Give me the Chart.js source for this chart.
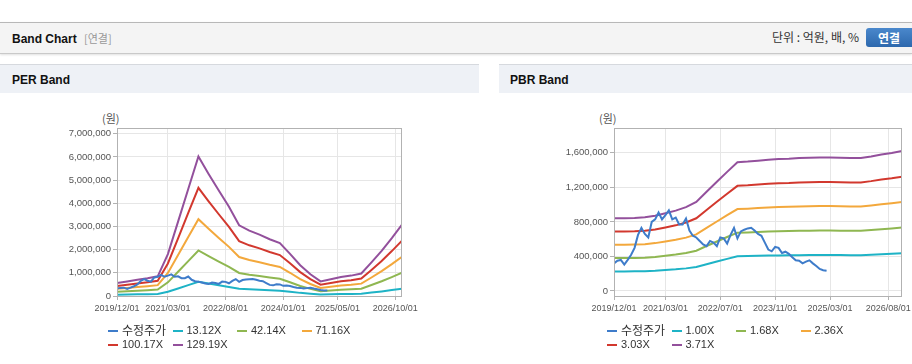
<!DOCTYPE html>
<html><head><meta charset="utf-8">
<script src="https://cdn.jsdelivr.net/npm/chart.js@4/dist/chart.umd.min.js"></script>
<style>
html,body{margin:0;padding:0}
body{width:912px;height:364px;overflow:hidden;background:#fff;position:relative;font-family:"Liberation Sans",Arial,"Noto Sans CJK KR",sans-serif;color:#222}
.abs{position:absolute;white-space:nowrap}
#topbar{left:0;top:22px;width:912px;height:30px;background:#f4f4f4;border-top:1px solid #b8b8b8;border-bottom:1px solid #c9c9c9;box-shadow:0 1px 2px rgba(0,0,0,.12)}
.ph{top:64px;height:28px;background:#eef1f6;border-top:1px solid #d6d9de}
.ttl{font-weight:bold;font-size:12px;line-height:14px;color:#111}
.unit{font-size:12px;line-height:14px;color:#333;font-family:"Noto Sans CJK KR","Liberation Sans",sans-serif}
#btn{left:866px;top:28px;width:52px;height:19px;border-radius:3px;background:linear-gradient(#4a88cc,#2d68ad);color:#fff;font-weight:bold;font-size:12px;line-height:19px;font-family:"Noto Sans CJK KR",sans-serif}
#btn span{position:absolute;left:12px;top:0}
.wonlbl{font-size:11px;color:#555;line-height:12px;font-family:"Noto Sans CJK KR",sans-serif}
.leg{font-size:11px;color:#333;line-height:13px;height:13px}
.leg i{position:absolute;left:0;top:6px;width:10px;height:2px}
.leg b{position:absolute;left:14px;top:0;font-weight:normal}
.leg b.kr{font-family:"Noto Sans CJK KR",sans-serif;font-size:12px;top:-1px}
canvas{position:absolute}
</style>
</head><body>
<div id="topbar" class="abs"></div>
<div class="abs ttl" style="left:12px;top:31px">Band Chart <span style="font-weight:normal;color:#999;margin-left:4px;font-family:'Noto Sans CJK KR',sans-serif;font-size:11px">[연결]</span></div>
<div class="abs unit" style="right:53px;top:30px">단위 : 억원, 배, %</div>
<div id="btn" class="abs"><span>연결</span></div>
<div class="abs ph" style="left:0;width:479px"></div>
<div class="abs ph" style="left:499px;width:413px"></div>
<div class="abs ttl" style="left:12px;top:73px">PER Band</div>
<div class="abs ttl" style="left:510px;top:73px">PBR Band</div>
<div class="abs wonlbl" style="left:102px;top:112px">(원)</div>
<div class="abs wonlbl" style="left:599px;top:112px">(원)</div>
<canvas id="per" width="479" height="230" style="left:0;top:93px"></canvas>
<canvas id="pbr" width="413" height="230" style="left:499px;top:93px"></canvas>
<div id="legends"></div>
<script>
// ---------- data ----------
const bandDates = ['2019/12','2020/03','2020/06','2020/09','2020/12','2021/03','2021/06','2021/09','2021/12','2022/03','2022/06','2022/09','2022/12','2023/03','2023/06','2023/09','2023/12','2024/03','2024/06','2024/09','2024/12','2025/03','2025/06','2025/09','2025/12','2026/03','2026/06','2026/09','2026/12'];

const priceDates = ['2019/12',
 '2020/01','2020/02','2020/03','2020/04','2020/05','2020/06','2020/07','2020/08','2020/09','2020/10','2020/11','2020/12',
 '2021/01','2021/02','2021/03','2021/04','2021/05','2021/06','2021/07','2021/08','2021/09','2021/10','2021/11','2021/12',
 '2022/01','2022/02','2022/03','2022/04','2022/05','2022/06','2022/07','2022/08','2022/09','2022/10','2022/11','2022/12',
 '2023/01','2023/02','2023/03','2023/04','2023/05','2023/06','2023/07','2023/08','2023/09','2023/10','2023/11','2023/12',
 '2024/01','2024/02','2024/03','2024/04','2024/05','2024/06','2024/07','2024/08','2024/09','2024/10','2024/11','2024/12',
 '2025/01','2025/02'];

const adjPrice = [320000,350000,360000,305000,360000,420000,500000,650000,730000,660000,
 620000,800000,830000,910000,830000,880000,935000,830000,850000,770000,
 770000,840000,700000,640000,620000,580000,540000,520000,580000,560000,
 520000,620000,610000,550000,650000,730000,610000,690000,710000,725000,
 733000,700000,660000,640000,560000,480000,460000,510000,500000,440000,
 455000,430000,390000,355000,350000,320000,340000,355000,320000,290000,
 255000,240000,234000];

// PER bands
const per1312 = [56900,64000,71100,78200,86300,183800,326000,469200,611400,535200,462100,391000,309800,286400,269100,248800,231600,184800,135100,95500,64000,73100,83300,89400,98500,147300,198000,253900,312800];
const per4214 = [182700,205500,228300,251200,277300,590400,1047100,1507000,1963700,1719100,1484200,1255900,994900,919900,864400,799200,743700,593700,433800,306600,205500,234900,267500,287100,316400,473000,636100,815500,1004700];
const per7116 = [308400,347000,385600,424100,468200,996900,1768100,2544700,3315800,2902700,2506100,2120600,1679900,1553300,1459600,1349500,1255800,1002500,732600,517800,347000,396600,451700,484700,534300,798700,1074100,1377000,1696500];
const per10017 = [434000,488500,542800,597100,659100,1403500,2489000,3582300,4667900,4086400,3528100,2985300,2365000,2186600,2054800,1899700,1767900,1411200,1031300,728900,488500,558300,635800,682400,752100,1124300,1512000,1938500,2388200];
const per12919 = [560000,630000,700000,770000,850000,1810000,3210000,4620000,6020000,5270000,4550000,3850000,3050000,2820000,2650000,2450000,2280000,1820000,1330000,940000,630000,720000,820000,880000,970000,1450000,1950000,2500000,3080000];

// PBR bands
const pbr100 = [227000,227000,228000,230000,235000,243000,251000,262000,278000,310000,341000,372000,402000,404000,407000,410000,412000,413000,415000,416000,417000,417000,416000,415000,415000,420000,426000,431000,437000];
const pbr168 = [381400,381400,383000,386400,394800,408200,421700,440200,467000,520800,572900,625000,675400,678700,683800,688800,692200,693800,697200,698900,700600,700600,698900,697200,697200,705600,715700,724100,734200];
const pbr236 = [535700,535700,538100,542800,554600,573500,592400,618300,656100,731600,804800,877900,948700,953400,960500,967600,972300,974700,979400,981800,984100,984100,981800,979400,979400,991200,1005400,1017200,1031300];
const pbr303 = [687800,687800,690800,696900,712100,736300,760500,793900,842300,939300,1033200,1127200,1218100,1224100,1233200,1242300,1248400,1251400,1257500,1260500,1263500,1263500,1260500,1257500,1257500,1272600,1290800,1305900,1324100];
const pbr371 = [842200,842200,845900,853300,871900,901500,931200,972000,1031400,1150100,1265100,1380100,1491400,1498800,1510000,1521100,1528500,1532200,1539700,1543400,1547100,1547100,1543400,1539700,1539700,1558200,1580500,1599000,1621300];

const perNames = ['수정주가','13.12X','42.14X','71.16X','100.17X','129.19X'];
const pbrNames = ['수정주가','1.00X','1.68X','2.36X','3.03X','3.71X'];

const perXTickLabels = ['2019/12/01','2021/03/01','2022/08/01','2024/01/01','2025/05/01','2026/10/01'];
const pbrXTickLabels = ['2019/12/01','2021/03/01','2022/07/01','2023/11/01','2025/03/01','2026/08/01'];
const perYTicks = [0,1000000,2000000,3000000,4000000,5000000,6000000,7000000];
const pbrYTicks = [0,400000,800000,1200000,1600000];
const axisStart = '2019/12';
const axisEnd = '2026/12';

// ---------- styles ----------
const colors = ['#3e7cca','#1eb3c6','#8fb751','#f3a83c','#d2382e','#93509c'];

function monthIndex(s){
  const p = s.split('/');
  const b = axisStart.split('/');
  return (parseInt(p[0],10)-parseInt(b[0],10))*12 + (parseInt(p[1],10)-parseInt(b[1],10));
}
function pts(dates, vals){ return vals.map((v,i)=>({x:monthIndex(dates[i]), y:v})); }

Chart.defaults.font.family = '"Liberation Sans", Arial, sans-serif';
Chart.defaults.color = '#555';

const frame = {id:'frame', afterDraw(c){
  const a=c.chartArea, ctx=c.ctx;
  ctx.save(); ctx.strokeStyle='#b2b2b2'; ctx.lineWidth=1;
  ctx.strokeRect(Math.round(a.left)+0.5, Math.round(a.top)+0.5, Math.round(a.right)-Math.round(a.left)-1, Math.round(a.bottom)-Math.round(a.top));
  ctx.restore();
}};

function build(id, series, names, yMin, yMax, yTicks, xLabels, padRight, yWidth){
  const datasets = series.map((s,i)=>({
    label:names[i], data:s, borderColor:colors[i], backgroundColor:colors[i],
    borderWidth:2, pointRadius:0, tension:0, fill:false
  }));
  const xTickVals = xLabels.map(l=>monthIndex(l.slice(0,7)));
  new Chart(document.getElementById(id), {
    type:'line',
    data:{datasets},
    plugins:[frame],
    options:{
      responsive:false, animation:false, parsing:true,
      layout:{padding:{top:35,right:padRight,left:0,bottom:0}},
      plugins:{legend:{display:false}, tooltip:{enabled:false}},
      scales:{
        x:{type:'linear', min:0, max:monthIndex(axisEnd),
          afterBuildTicks:s=>{ s.ticks = xTickVals.map(v=>({value:v})); },
          afterFit:s=>{ s.height=27; s.paddingLeft=0; s.paddingRight=0; },
          ticks:{autoSkip:false, maxRotation:0, padding:3, color:'#555', font:{size:9},
            callback:v=>{ const k=xTickVals.indexOf(v); return k>=0?xLabels[k]:''; }},
          grid:{color:'#e6e6e6', tickColor:'#b2b2b2', tickLength:4},
          border:{display:false}
        },
        y:{min:yMin, max:yMax,
          afterBuildTicks:s=>{ s.ticks = yTicks.map(v=>({value:v})); },
          afterFit:s=>{ s.width=yWidth; s.paddingTop=0; s.paddingBottom=0; },
          ticks:{padding:2, color:'#555', font:{size:9.5},
            callback:v=>Number(v).toLocaleString('en-US')},
          grid:{color:'#e6e6e6', tickColor:'#b2b2b2', tickLength:4},
          border:{display:false}
        }
      }
    }
  });
}

build('per',
  [pts(priceDates,adjPrice), pts(bandDates,per1312), pts(bandDates,per4214), pts(bandDates,per7116), pts(bandDates,per10017), pts(bandDates,per12919)],
  perNames, 0, 7250000, perYTicks, perXTickLabels, 77, 117);
build('pbr',
  [pts(priceDates,adjPrice), pts(bandDates,pbr100), pts(bandDates,pbr168), pts(bandDates,pbr236), pts(bandDates,pbr303), pts(bandDates,pbr371)],
  pbrNames, -58000, 1888000, pbrYTicks, pbrXTickLabels, 10, 115);

// HTML legends
function legend(names, baseX){
  const box = document.getElementById('legends');
  names.forEach((n,i)=>{
    const d = document.createElement('div');
    d.className='abs leg';
    d.style.left = (baseX + (i%4)*64.5) + 'px';
    d.style.top = (324 + Math.floor(i/4)*13.5) + 'px';
    const kr = /[^\x00-\x7f]/.test(n) ? ' class="kr"' : '';
    d.innerHTML = '<i style="background:'+colors[i]+'"></i><b'+kr+'>'+n+'</b>';
    box.appendChild(d);
  });
}
legend(perNames, 108);
legend(pbrNames, 607);
</script>
</body></html>
